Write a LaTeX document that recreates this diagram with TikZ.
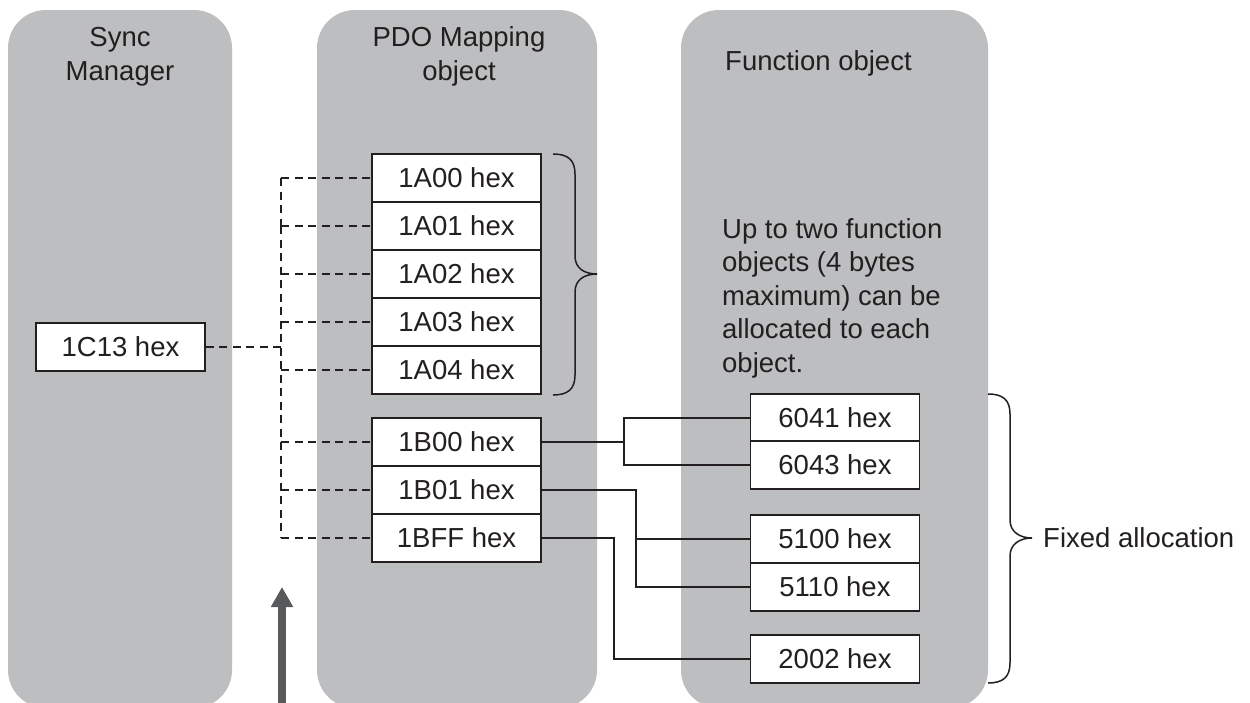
\documentclass[tikz,border=0pt]{standalone}
\usepackage{fontspec}
\setmainfont{Liberation Sans}
\usetikzlibrary{arrows.meta}
\definecolor{panel}{HTML}{BCBEC0}
\definecolor{ink}{HTML}{231F20}
\definecolor{arrowgray}{HTML}{58595B}
\begin{document}
\begin{tikzpicture}[x=1pt,y=-1pt,
  lbl/.style={font=\fontsize{27.5}{33.5}\selectfont, text=ink, inner sep=0pt},
  hexbox/.style={draw=ink, line width=1.3pt, fill=white, minimum width=169pt, minimum height=48pt, inner sep=0pt, font=\fontsize{27.5}{33}\selectfont, text=ink},
  panelbox/.style={fill=panel, rounded corners=38pt},
  dashlink/.style={draw=ink, line width=1.4pt, dash pattern=on 8pt off 5.5pt},
  thickdash/.style={draw=ink, line width=2.6pt, dash pattern=on 8pt off 5.5pt},
  link/.style={draw=ink, line width=1.2pt},
  brc/.style={draw=ink, line width=1.5pt},
  bigarrow/.style={draw=arrowgray, line width=7.5pt, -{Triangle[width=21pt,length=20pt]}}]

\useasboundingbox (0,0) rectangle (1250,702);
\clip (0,0) rectangle (1250,702);
\fill[white] (0,0) rectangle (1250,702);

% panels
\fill[panelbox] (8,10) rectangle (232,708);
\fill[panelbox] (317,10) rectangle (597,708);
\fill[panelbox] (681,10) rectangle (988,708);

% headers (base anchor = baseline of the last line)
\node[lbl, align=center, anchor=base] (hsync) at (120,80) {Sync\\Manager};
\node[lbl, align=center, anchor=base] (hpdo) at (459,80) {PDO Mapping\\object};
\node[lbl, anchor=base west] (hfun) at (725,70) {Function object};

% note
\node[lbl, align=left, anchor=base west] (note) at (722,372) {Up to two function\\objects (4 bytes\\maximum) can be\\allocated to each\\object.};

% PDO boxes
\node[hexbox] (a00) at (456.5,178) {1A00 hex};
\node[hexbox] (a01) at (456.5,226) {1A01 hex};
\node[hexbox] (a02) at (456.5,274) {1A02 hex};
\node[hexbox] (a03) at (456.5,322) {1A03 hex};
\node[hexbox] (a04) at (456.5,370) {1A04 hex};
\node[hexbox] (b00) at (456.5,442) {1B00 hex};
\node[hexbox] (b01) at (456.5,490) {1B01 hex};
\node[hexbox] (bff) at (456.5,538) {1BFF hex};

% sync box
\node[hexbox] (c13) at (120.5,347) {1C13 hex};

% function boxes
\node[hexbox] (f6041) at (835,418) {6041 hex};
\node[hexbox] (f6043) at (835,465) {6043 hex};
\node[hexbox] (f5100) at (835,539) {5100 hex};
\node[hexbox] (f5110) at (835,587) {5110 hex};
\node[hexbox] (f2002) at (835,659) {2002 hex};

% trunk and junction coordinates
\coordinate (trunk) at (281,0);
\coordinate (j1) at (624,0);
\coordinate (j2) at (636,0);
\coordinate (j3) at (614,0);

% dashed links
\draw[thickdash] (c13.east) -- (c13.east -| trunk);
\draw[dashlink] (a00.west -| trunk) -- (a01.west -| trunk);
\draw[thickdash] (a01.west -| trunk) -- (b00.west -| trunk);
\draw[dashlink] (b00.west -| trunk) -- (bff.west -| trunk);
\foreach \n in {a00,a01,a02,a03,a04,b00,b01,bff}
  \draw[dashlink] (\n.west -| trunk) -- (\n.west);

% solid links
\draw[link] (b00.east) -- (b00.east -| j1);
\draw[link] (f6041.west) -- (f6041.west -| j1) -- (f6043.west -| j1) -- (f6043.west);
\draw[link] (b01.east) -- (b01.east -| j2) -- (f5110.west -| j2) -- (f5110.west);
\draw[link] (f5100.west -| j2) -- (f5100.west);
\draw[link] (bff.east) -- (bff.east -| j3) -- (f2002.west -| j3) -- (f2002.west);

% braces
\draw[brc] (553,154) .. controls (568,154) and (575,160) .. (575,174)
  -- (575,256) .. controls (575,268) and (584,274) .. (597,274)
  .. controls (584,274) and (575,280) .. (575,292)
  -- (575,375) .. controls (575,389) and (568,395) .. (553,395);
\draw[brc] (988,394) .. controls (1003,394) and (1010,400) .. (1010,414)
  -- (1010,520) .. controls (1010,532) and (1020,538) .. (1032,538)
  .. controls (1020,538) and (1010,544) .. (1010,556)
  -- (1010,663) .. controls (1010,677) and (1003,683) .. (988,683);
\node[lbl, anchor=base west] (fixed) at (1043,547) {Fixed allocation};

% arrow
\coordinate (arrtail) at (282,710);
\coordinate (arrtip) at (282,587);
\draw[bigarrow] (arrtail) -- (arrtip);
\end{tikzpicture}
\end{document}
